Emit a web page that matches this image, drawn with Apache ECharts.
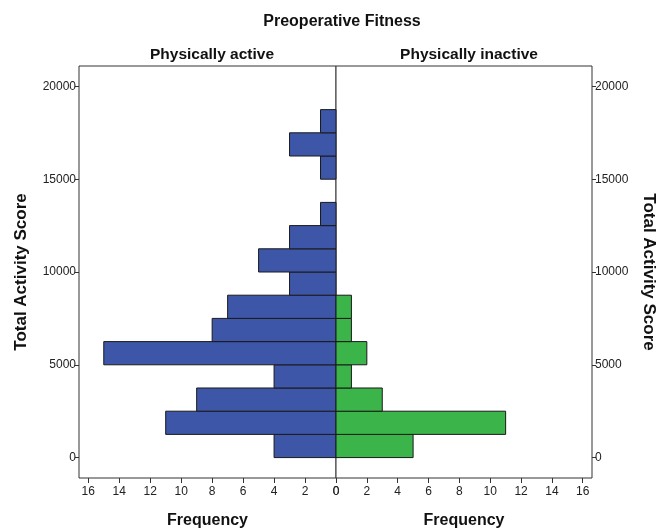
<!DOCTYPE html>
<html>
<head>
<meta charset="utf-8">
<script src="https://cdn.jsdelivr.net/npm/echarts@6/dist/echarts.min.js"></script>
<style>
html,body{margin:0;padding:0;background:#fff;}
#chart{width:659px;height:529px;}
</style>
</head>
<body>
<div id="chart"></div>
<script>
// Histogram bins (Total Activity Score), width 1250
var binStarts = [0,1250,2500,3750,5000,6250,7500,8750,10000,11250,12500,13750,15000,16250,17500];
var binWidth = 1250;
var activeCounts = [4,11,9,4,15,8,7,3,5,3,1,0,1,3,1];
var inactiveCounts = [5,11,3,1,2,1,1,0,0,0,0,0,0,0,0];
var freqTicks = [0,2,4,6,8,10,12,14,16];
var scoreTicks = [0,5000,10000,15000,20000];
var mainTitle = 'Preoperative Fitness';
var panelTitles = ['Physically active','Physically inactive'];
var xName = 'Frequency';
var yName = 'Total Activity Score';

var FONT = '"Liberation Sans", Arial, sans-serif';
var frameColor = '#333';
var chart = echarts.init(document.getElementById('chart'));

function makeData(counts){
  var out = [];
  for (var i=0;i<binStarts.length;i++){
    if (counts[i] > 0) out.push([counts[i], binStarts[i], binStarts[i]+binWidth]);
  }
  return out;
}
function renderBar(color){
  return function(params, api){
    var p0 = api.coord([0, api.value(1)]);
    var p1 = api.coord([api.value(0), api.value(2)]);
    var x = Math.min(p0[0], p1[0]);
    var w = Math.abs(p1[0]-p0[0]);
    var y = Math.min(p0[1], p1[1]);
    var h = Math.abs(p1[1]-p0[1]);
    return {
      type:'rect',
      shape:{x:x, y:y, width:w, height:h},
      style:{fill:color, stroke:'#1a1a1a', lineWidth:1}
    };
  };
}

var gridTop = 66, gridBottom = 51;
var xAxisCommon = function(idx, inverse){
  return {
    type:'value', gridIndex:idx, min:0, max:16.6, inverse:inverse,
    position:'bottom',
    name:xName, nameLocation:'middle', nameGap:35,
    nameTextStyle:{fontFamily:FONT, fontWeight:'bold', fontSize:16, color:'#111'},
    axisLine:{show:false, onZero:false},
    axisTick:{show:true, inside:false, length:5, lineStyle:{color:frameColor}, customValues:freqTicks},
    axisLabel:{fontFamily:FONT, fontSize:12, color:'#222', margin:8, customValues:freqTicks},
    splitLine:{show:false}
  };
};
var yAxisCommon = function(idx, pos){
  return {
    type:'value', gridIndex:idx, min:-1100, max:21100, position:pos,
    name:yName, nameLocation:'middle',
    nameGap: pos==='left' ? 49 : 48,
    nameRotate: pos==='left' ? 90 : -90,
    nameTextStyle:{fontFamily:FONT, fontWeight:'bold', fontSize:17, color:'#111'},
    axisLine:{show:false, onZero:false},
    axisTick:{show:true, inside:false, length:4, lineStyle:{color:frameColor}, customValues:scoreTicks},
    axisLabel:{fontFamily:FONT, fontSize:12, color:'#222', margin:3, customValues:scoreTicks,
      formatter:function(v){ return String(v); }},
    splitLine:{show:false}
  };
};

var option = {
  backgroundColor:'#fff',
  animation:false,
  title:[
    {text:mainTitle, left:337, top:9, textAlign:'center', textStyle:{fontFamily:FONT, fontWeight:'bold', fontSize:16, color:'#111'}},
    {text:panelTitles[0], left:207, top:42, textAlign:'center', textStyle:{fontFamily:FONT, fontWeight:'bold', fontSize:15.5, color:'#111'}},
    {text:panelTitles[1], left:464, top:42, textAlign:'center', textStyle:{fontFamily:FONT, fontWeight:'bold', fontSize:15.5, color:'#111'}}
  ],
  grid:[
    {left:79, width:257, top:gridTop, bottom:gridBottom, show:true, borderColor:frameColor, borderWidth:1, backgroundColor:'#fff', outerBoundsMode:'none', containLabel:false},
    {left:336, width:256, top:gridTop, bottom:gridBottom, show:true, borderColor:frameColor, borderWidth:1, backgroundColor:'#fff', outerBoundsMode:'none', containLabel:false}
  ],
  xAxis:[ xAxisCommon(0, true), xAxisCommon(1, false) ],
  yAxis:[ yAxisCommon(0, 'left'), yAxisCommon(1, 'right') ],
  series:[
    {type:'custom', xAxisIndex:0, yAxisIndex:0, renderItem:renderBar('#3d56a8'), data:makeData(activeCounts), encode:{x:0, y:[1,2]}},
    {type:'custom', xAxisIndex:1, yAxisIndex:1, renderItem:renderBar('#3bb54a'), data:makeData(inactiveCounts), encode:{x:0, y:[1,2]}}
  ]
};
chart.setOption(option);
</script>
</body>
</html>
